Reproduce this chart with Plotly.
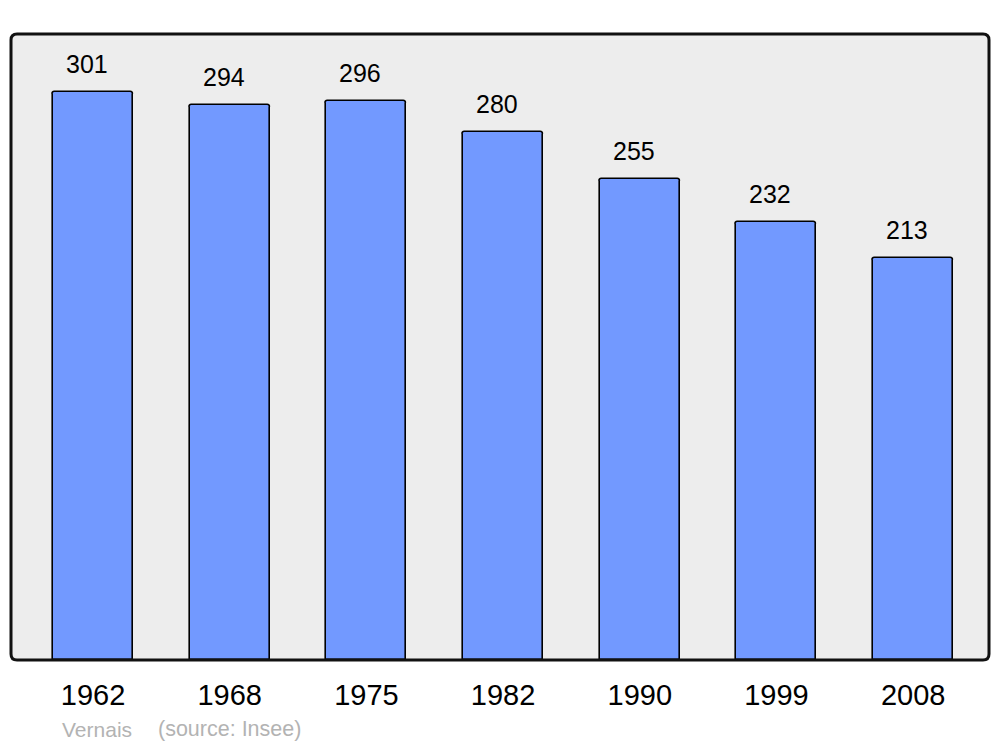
import plotly.graph_objects as go

years = ["1962", "1968", "1975", "1982", "1990", "1999", "2008"]
population = [301, 294, 296, 280, 255, 232, 213]
commune = "Vernais"
source = "(source: Insee)"

W, H = 1000, 747
L, T, R, B = 11, 34, 11, 87
pw, ph = W - L - R, H - T - B
FONT = "Liberation Sans, Arial, sans-serif"

def py(page_y):
    return (H - B - page_y) / ph

def px(page_x):
    return (page_x - L) / pw

fig = go.Figure()
fig.add_trace(go.Bar(
    x=list(range(len(years))), y=population, width=0.585,
    marker=dict(color="#7299FF", line=dict(color="#000000", width=1.6), cornerradius=3),
    hoverinfo="skip",
))

for i, v in enumerate(population):
    fig.add_annotation(x=i, y=v, text=str(v), showarrow=False, yanchor="bottom",
                       yshift=12, xshift=-6, font=dict(size=25, color="#000000", family=FONT))

# rounded frame
rx, ry = 6 / pw, 6 / ph
path = (f"M {rx},0 L {1-rx},0 Q 1,0 1,{ry} L 1,{1-ry} Q 1,1 {1-rx},1 "
        f"L {rx},1 Q 0,1 0,{1-ry} L 0,{ry} Q 0,0 {rx},0 Z")
fig.add_shape(type="path", path=path, xref="paper", yref="paper",
              fillcolor="#EDEDED", line=dict(width=0), layer="below")
fig.add_shape(type="path", path=path, xref="paper", yref="paper",
              fillcolor="rgba(0,0,0,0)", line=dict(color="#111111", width=3), layer="above")

fig.add_annotation(x=px(61), y=py(729), xref="paper", yref="paper", text=commune, showarrow=False,
                   xanchor="left", yanchor="middle", xshift=-1,
                   font=dict(size=21, color="#B3B3B3", family=FONT))
fig.add_annotation(x=px(157), y=py(729), xref="paper", yref="paper", text=source,
                   showarrow=False, xanchor="left", yanchor="middle", xshift=-1,
                   font=dict(size=21.5, color="#B3B3B3", family=FONT))

fig.update_layout(
    width=W, height=H, margin=dict(l=L, r=R, t=T, b=B),
    paper_bgcolor="#FFFFFF", plot_bgcolor="rgba(0,0,0,0)",
    showlegend=False, bargap=0,
    font=dict(family=FONT, color="#000000"),
    xaxis=dict(range=[-0.6, 6.555], tickmode="array", tickvals=list(range(len(years))),
               ticktext=years, tickfont=dict(size=29), showgrid=False, zeroline=False,
               ticks="outside", ticklen=9, tickcolor="rgba(0,0,0,0)", showline=False, fixedrange=True),
    yaxis=dict(range=[0, 331.7], visible=False, fixedrange=True),
)

fig.write_html("out.html", config={"displayModeBar": False},
               post_script="document.body.style.margin='0';document.body.style.overflow='hidden';")
